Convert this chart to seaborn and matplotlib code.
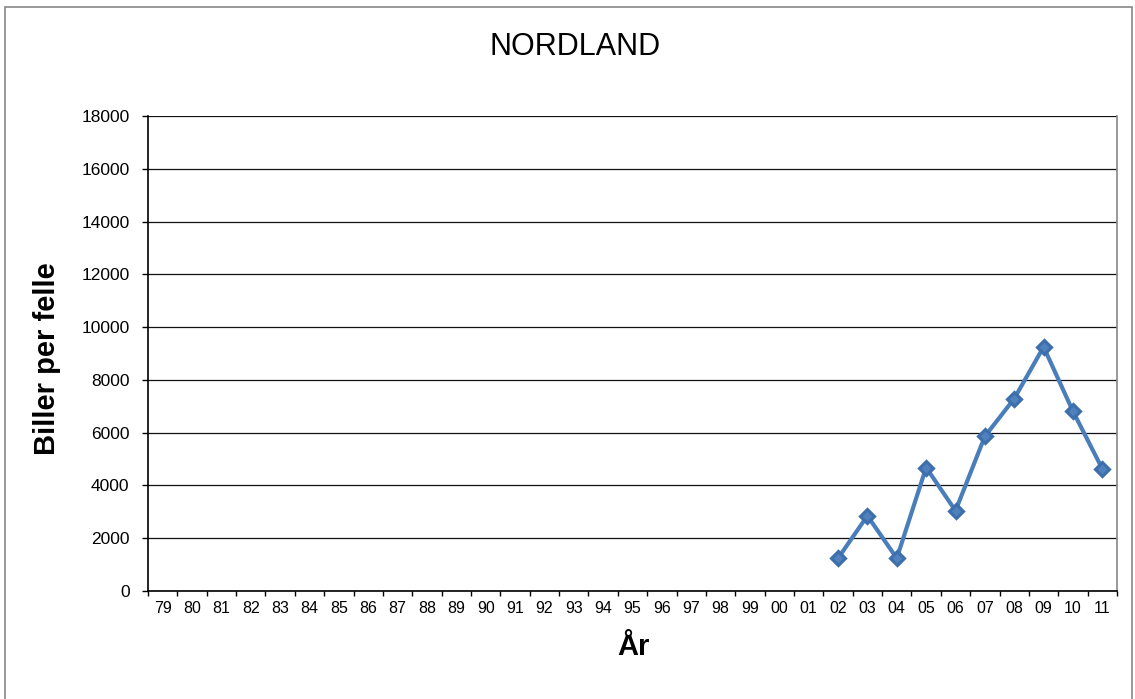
import numpy as np
import pandas as pd
import matplotlib
matplotlib.use("Agg")
import matplotlib.pyplot as plt
from matplotlib.patches import Rectangle
import seaborn as sns

# ---- data ----
categories = ["79", "80", "81", "82", "83", "84", "85", "86", "87", "88", "89",
              "90", "91", "92", "93", "94", "95", "96", "97", "98", "99", "00",
              "01", "02", "03", "04", "05", "06", "07", "08", "09", "10", "11"]
years = ["02", "03", "04", "05", "06", "07", "08", "09", "10", "11"]
values = [1240, 2850, 1240, 4680, 3040, 5860, 7290, 9250, 6810, 4630]
yticks = [0, 2000, 4000, 6000, 8000, 10000, 12000, 14000, 16000, 18000]

title = "NORDLAND"
ylabel = "Biller per felle"
xlabel = "År"

sns.set_theme(style="white")
plt.rcParams["font.family"] = ["Liberation Sans", "DejaVu Sans"]

W, H = 1135, 699
fig = plt.figure(figsize=(W / 100, H / 100), dpi=100)
ax = fig.add_axes([148 / W, 1 - 591 / H, (1117 - 148) / W, (591 - 116) / H])

df = pd.DataFrame({"year": years, "value": values})
sns.pointplot(data=df, x="year", y="value", order=categories, ax=ax,
              color="#4A7EBB", markers="D", linestyles="-", errorbar=None,
              markersize=7.5, linewidth=3.0,
              markeredgecolor="#3E6FAD", markerfacecolor="#4F81BD", zorder=5)

n = len(categories)
ax.set_xlim(-0.5, n - 0.5)
ax.set_ylim(yticks[0], yticks[-1])
ax.set_yticks(yticks)
ax.set_yticklabels([str(v) for v in yticks], fontsize=12.5)

ax.set_xticks(np.arange(-0.5, n, 1.0))
ax.set_xticklabels([])
ax.set_xticks(np.arange(n), minor=True)
ax.set_xticklabels(categories, minor=True, fontsize=11.5)
ax.tick_params(axis="x", which="major", direction="out", length=3.8, width=1,
               color="black", bottom=True)
ax.tick_params(axis="x", which="minor", length=0, pad=7, colors="black")
ax.tick_params(axis="y", direction="out", length=4.3, width=1, color="black",
               left=True, pad=9, labelcolor="black")

ax.yaxis.grid(True, color="#111111", linewidth=0.9)
ax.xaxis.grid(False)
ax.set_axisbelow(True)

for s in ["left", "bottom"]:
    ax.spines[s].set_color("black")
    ax.spines[s].set_linewidth(1.2)
ax.spines["right"].set_color("#888888")
ax.spines["right"].set_linewidth(1.2)
ax.spines["top"].set_visible(False)

ax.set_xlabel(xlabel, fontsize=21, fontweight="bold", color="black")
ax.set_ylabel(ylabel, fontsize=21, fontweight="bold", color="black")
ax.xaxis.set_label_coords((633 - 148) / (1117 - 148), (591 - 647) / (591 - 116))
ax.xaxis.label.set_va("center")
ax.yaxis.set_label_coords((47 - 148) / (1117 - 148), (591 - 359) / (591 - 116))
ax.yaxis.label.set_va("center")

fig.text(575 / W, 1 - 47 / H, title, ha="center", va="center", fontsize=22,
         color="black")

fig.patches.append(Rectangle((5 / W, -0.01), (1132 - 5) / W, 1.01 - 7 / H,
                             transform=fig.transFigure, fill=False,
                             edgecolor="#888888", linewidth=1.2))

fig.savefig("out.png", dpi=100)
